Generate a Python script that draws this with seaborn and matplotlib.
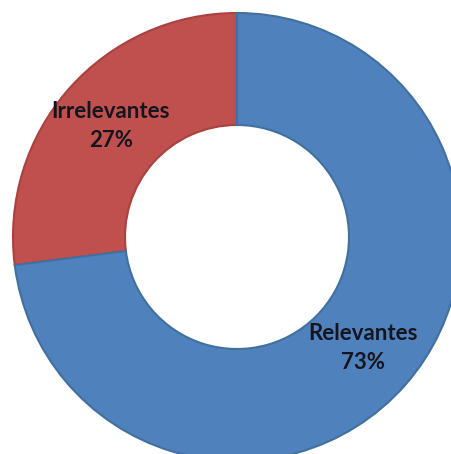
import matplotlib
matplotlib.use("Agg")
import matplotlib.pyplot as plt
import seaborn as sns

# Share of documents judged relevant vs. irrelevant
categories = ["Irrelevantes", "Relevantes"]
shares = [27, 73]
colors = ["#C0504D", "#4F81BD"]
edge_colors = ["#A9423F", "#41709F"]

sns.set_theme(style="white")
plt.rcParams["font.family"] = ["Lato", "DejaVu Sans"]

W, H = 451, 454
fig = plt.figure(figsize=(W / 100, H / 100), dpi=100)
ax = fig.add_axes([0, 0, 1, 1])

labels = [f"{c}\n{v}%" for c, v in zip(categories, shares)]
wedges, texts = ax.pie(
    shares,
    labels=labels,
    colors=colors,
    startangle=90,
    counterclock=True,
    center=(237, H - 237),
    radius=224,
    labeldistance=0.75,
    wedgeprops=dict(width=112, linewidth=1.5),
    textprops=dict(fontsize=16, fontweight="bold", color="#15151f"),
)
for w, ec in zip(wedges, edge_colors):
    w.set_edgecolor(ec)
for t in texts:
    t.set_ha("center")
    t.set_va("center")
    t.set_linespacing(1.45)

ax.set_xlim(0, W)
ax.set_ylim(0, H)
ax.set_aspect("equal")
ax.axis("off")

fig.savefig("out.png", dpi=100, facecolor="white")
